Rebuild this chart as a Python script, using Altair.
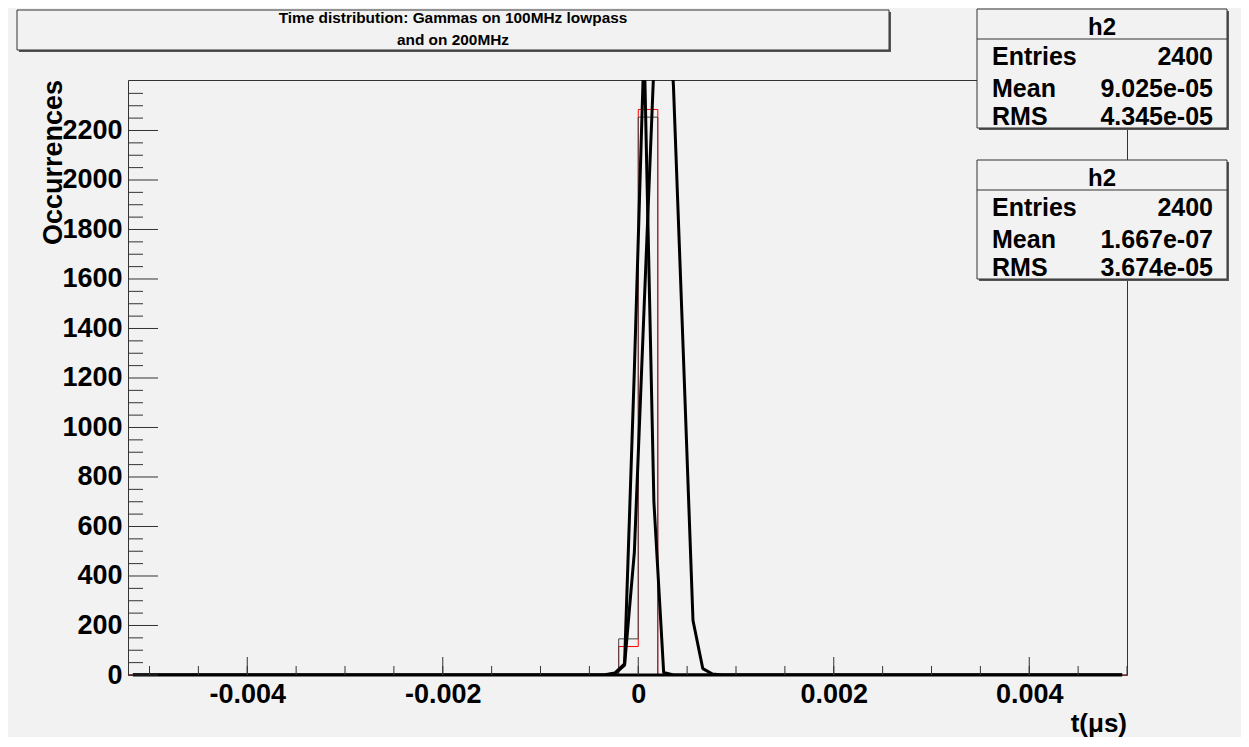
import altair as alt
import pandas as pd

# ---------------- data ----------------
# step histograms (bin edges in microseconds, counts)
hist_edges = [-0.00522, -0.0002, 0.0, 0.0002, 0.005]
hist_black = [0, 146, 2254, 0, 0]
hist_red = [0, 115, 2285, 0, 0]

# thick fitted curves (polyline vertices)
curve1_x = [-0.00517, -0.00044, -0.00034, -0.00024, -0.00014, -0.00004,
            0.00006, 0.00016, 0.00026, 0.00036, 0.00495]
curve1_y = [0, 0, 1, 8, 45, 1230, 2550, 700, 10, 0, 0]
curve2_x = [-0.00517, -0.00034, -0.00024, -0.00014, -0.00004, 0.00006,
            0.00016, 0.00026, 0.00036, 0.00046, 0.00056, 0.00066, 0.00076,
            0.00086, 0.00495]
curve2_y = [0, 0, 5, 40, 495, 1485, 2460, 3050, 2380, 1311, 220, 26, 4, 0, 0]

# axis ticks
x_major = [-0.004, -0.002, 0.0, 0.002, 0.004]
x_minor = [round(-0.005 + 0.0005 * i, 4) for i in range(21)]
y_major = [0, 200, 400, 600, 800, 1000, 1200, 1400, 1600, 1800, 2000, 2200]
y_minor = [v for v in range(50, 2401, 50) if v % 200 != 0]

# texts
title_lines = ["Time distribution: Gammas on 100MHz lowpass", "and on 200MHz"]
x_title = "t(\u03bcs)"
y_title = "Occurrences"
stat_box_name = "h2"
stat_names = ["Entries", "Mean", "RMS"]
stats1 = ["2400", "9.025e-05", "4.345e-05"]
stats2 = ["2400", "1.667e-07", "3.674e-05"]

# ---------------- styling ----------------
FONT = "Liberation Sans"
BG = "#f2f2f2"
W, H = 999, 595
xs = alt.Scale(domain=[-0.00522, 0.005], nice=False, zero=False)
ys = alt.Scale(domain=[0, 2404], nice=False, zero=False)

hist_df = pd.DataFrame({"x": hist_edges, "black": hist_black, "red": hist_red})
c1_df = pd.DataFrame({"x": curve1_x, "y": curve1_y})
c2_df = pd.DataFrame({"x": curve2_x, "y": curve2_y})
one = pd.DataFrame({"k": [0]})

x_axis = alt.Axis(values=x_major,
                  labelExpr="datum.value == 0 ? '0' : replace(format(datum.value, '.3f'), '\u2212', '-')",
                  ticks=False, domain=False, grid=False, labelFont=FONT,
                  labelFontSize=27, labelFontWeight="bold", labelColor="black",
                  labelPadding=6, labelOverlap=False, labelFlush=False, title=None)
y_axis = alt.Axis(values=y_major, format="d", ticks=False, domain=False, grid=False,
                  labelFont=FONT, labelFontSize=27, labelFontWeight="bold",
                  labelColor="black", labelPadding=6, labelOverlap=False,
                  labelFlush=False, title=None)

def X(field):
    return alt.X(field, scale=xs, axis=x_axis)

def Y(field):
    return alt.Y(field, scale=ys, axis=y_axis)

red_hist = alt.Chart(hist_df).mark_line(interpolate="step-after", color="#ff0000",
                                        strokeWidth=1).encode(x=X("x:Q"), y=Y("red:Q"))
black_hist = alt.Chart(hist_df).mark_line(interpolate="step-after", color="#444444",
                                          strokeWidth=1).encode(x=X("x:Q"), y=Y("black:Q"))

def curve(df):
    return alt.Chart(df).mark_line(color="black", strokeWidth=3, clip=True,
                                   strokeJoin="round").encode(x=X("x:Q"), y=Y("y:Q"))

base_df = pd.DataFrame({"x": [curve1_x[0]], "x2": [curve1_x[-1]], "y": [curve1_y[0]]})
baseline = alt.Chart(base_df).mark_rule(color="black", strokeWidth=3).encode(
    x=X("x:Q"), x2="x2:Q", y=Y("y:Q"))

def yticks(vals, length):
    return alt.Chart(pd.DataFrame({"v": vals})).mark_rule(color="#333333", strokeWidth=1).encode(
        y=Y("v:Q"), x=alt.value(0), x2=alt.value(length))

def xticks(vals, length):
    return alt.Chart(pd.DataFrame({"v": vals})).mark_rule(color="#333333", strokeWidth=1).encode(
        x=X("v:Q"), y=alt.value(H), y2=alt.value(H - length))

def rect(x1, y1, x2, y2, fill, stroke=None):
    kw = dict(fill=fill)
    if stroke:
        kw.update(stroke=stroke, strokeWidth=1)
    return alt.Chart(one).mark_rect(**kw).encode(
        x=alt.value(x1), x2=alt.value(x2), y=alt.value(y1), y2=alt.value(y2))

def box(x1, y1, x2, y2):
    return [rect(x1 + 2, y1 + 2, x2 + 2, y2 + 2, "#555555"),
            rect(x1, y1, x2, y2, BG, "#333333")]

def hline(x1, x2, y):
    return alt.Chart(one).mark_rule(color="#333333", strokeWidth=1).encode(
        x=alt.value(x1), x2=alt.value(x2), y=alt.value(y))

def text(t, x, y, size, align="left", angle=0):
    kw = dict(font=FONT, fontSize=size, fontWeight="bold", color="black",
              align=align, baseline="alphabetic")
    if angle:
        kw["angle"] = angle
    return alt.Chart(pd.DataFrame({"t": [t]})).mark_text(**kw).encode(
        x=alt.value(x), y=alt.value(y), text="t:N")

layers = [red_hist, black_hist, curve(c1_df), curve(c2_df), baseline,
          yticks(y_major, 30), yticks(y_minor, 15),
          xticks(x_major, 18), xticks(x_minor, 9)]

# title box
layers += box(-111, -70, 761, -30)
layers.append(text(title_lines[0], 325, -57, 15.4, "center"))
layers.append(text(title_lines[1], 325, -35, 15.4, "center"))

# stat boxes
for top, vals in [(-71, stats1), (80, stats2)]:
    layers += box(849, top, 1099, top + 119)
    layers.append(hline(849, 1099, top + 30))
    layers.append(text(stat_box_name, 974, top + 26, 24, "center"))
    for i, (n, v) in enumerate(zip(stat_names, vals)):
        yb = top + 56 + [0, 32, 60][i]
        layers.append(text(n, 864, yb, 25, "left"))
        layers.append(text(v, 1085, yb, 25, "right"))

# axis titles
layers.append(text(y_title, -66, 0, 27, "right", angle=270))
layers.append(text(x_title, W, 652, 26, "right"))

chart = alt.layer(*layers).properties(
    width=W, height=H,
    padding={"left": 120, "top": 72, "right": 114, "bottom": 62},
    autosize=alt.AutoSizeParams(type="none"),
    background=BG,
).configure_view(stroke="#333333", strokeWidth=1)

chart.save("out.html", embed_options={"renderer": "svg", "actions": False})
